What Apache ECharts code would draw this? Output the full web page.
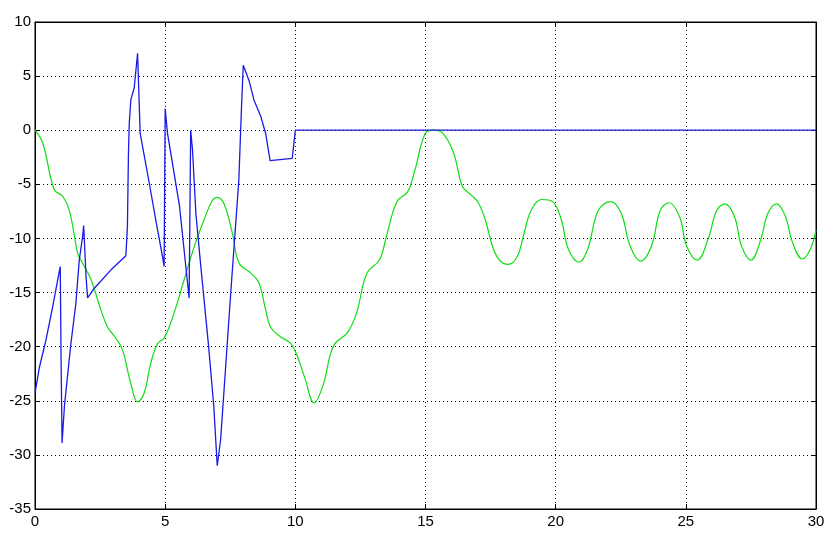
<!DOCTYPE html>
<html>
<head>
<meta charset="utf-8">
<script src="https://cdn.jsdelivr.net/npm/echarts@6/dist/echarts.min.js"></script>
<style>
  html, body { margin: 0; padding: 0; background: #fff; }
  #chart { width: 834px; height: 538px; }
</style>
</head>
<body>
<div id="chart"></div>
<script>
// blue trace (jagged)
var blueX = [0, 0.17, 0.42, 0.68, 0.93, 0.97, 1.0, 1.04, 1.13, 1.38, 1.57, 1.7, 1.83, 1.87, 1.96, 2.02,
  2.28, 2.92, 3.49, 3.55, 3.59, 3.62, 3.68, 3.81, 3.94, 4.04, 4.39, 4.64, 4.9, 4.96, 5.0, 5.09, 5.55,
  5.92, 5.98, 6.05, 6.18, 6.37, 6.67, 6.87, 7.0, 7.13, 7.52, 7.83, 7.93, 8.0, 8.22, 8.41, 8.67, 8.86,
  9.03, 9.88, 10.0, 30];
var blueY = [-24.3, -21.9, -19.4, -16.3, -13.1, -12.6, -20.9, -28.9, -25.5, -19.7, -16, -12, -9.8, -8.8, -13.5, -15.5,
  -14.6, -12.9, -11.6, -8.9, -2.1, 0.6, 2.8, 3.9, 7.1, -0.3, -4.9, -8.3, -11.7, -12.6, 2.0, -0.3, -7,
  -15.5, 0, -1.8, -7.7, -12.6, -20, -25.6, -31, -28.6, -15, -4.6, 2, 6, 4.6, 2.8, 1.3, -0.3,
  -2.8, -2.6, 0, 0];

// green trace (smooth)
var greenX = [0, 0.3, 0.74, 1.06, 1.32, 1.64, 1.76, 2.15, 2.53, 2.79, 3.1, 3.36, 3.68, 3.94, 4.19, 4.45,
  4.71, 4.96, 5.34, 5.73, 6.11, 6.49, 6.81, 7.0, 7.26, 7.58, 7.84, 8.29, 8.6, 8.86, 9.05, 9.44, 9.82,
  10.08, 10.38, 10.72, 11.06, 11.47, 12.0, 12.35, 12.75, 13.23, 13.5, 13.9, 14.31, 14.59, 14.99, 15.33,
  15.67, 16.08, 16.42, 16.76, 17.03, 17.3, 17.57, 17.84, 18.18, 18.52, 18.79, 19.06, 19.47, 19.88,
  20.22, 20.49, 20.9, 21.23, 21.64, 22.12, 22.52, 22.86, 23.27, 23.68, 24.02, 24.36, 24.76, 25.03,
  25.44, 25.85, 26.19, 26.5, 26.87, 27.14, 27.5, 27.88, 28.15, 28.49, 28.83, 29.1, 29.48, 29.78, 30];
var greenY = [0, -1.2, -5.5, -6.1, -7.4, -11.4, -12, -13.8, -16.6, -18.2, -19.2, -20.3, -23.4, -25.1, -24.3, -21.5,
  -19.7, -19.2, -16.9, -13.8, -10.8, -8.3, -6.5, -6.2, -6.8, -9.5, -12.3, -13.2, -14.1, -16.6, -18.2, -19.1, -19.7,
  -20.9, -23, -25.2, -23.6, -19.9, -18.7, -16.9, -13.2, -12, -9.8, -6.6, -5.7, -3.7, -0.3, 0,
  -0.3, -2.1, -5.2, -6, -6.7, -8.3, -10.7, -12, -12.4, -11.7, -9.5, -7.4, -6.4, -6.6,
  -8.3, -11, -12.2, -11, -7.4, -6.6, -7.7, -10.7, -12.1, -10.7, -7.4, -6.7, -8, -10.7,
  -12, -10.1, -7.4, -6.8, -8, -10.7, -12, -10.1, -7.7, -6.8, -8, -10.4, -11.9, -11, -9.2];

function pairs(xs, ys) {
  return xs.map(function (x, i) { return [x, ys[i]]; });
}

var chart = echarts.init(document.getElementById("chart"));
var labelFont = { color: "#000", fontSize: 15, fontFamily: "Liberation Sans Narrow, Liberation Sans" };
var dotted = { color: "#000", width: 1, type: [1, 3] };

var option = {
  backgroundColor: "#fff",
  animation: false,
  grid: {
    left: 35, right: 18, top: 22, bottom: 29,
    show: true, borderColor: "#000", borderWidth: 1, backgroundColor: "#fff"
  },
  xAxis: [
    {
      type: "value", min: 0, max: 30, interval: 5,
      axisLine: { show: true, onZero: false, lineStyle: { color: "#000" } },
      axisTick: { show: true, inside: true, length: 5, lineStyle: { color: "#000" } },
      axisLabel: Object.assign({ margin: 5 }, labelFont),
      splitLine: { show: true, lineStyle: dotted }
    },
    {
      type: "value", min: 0, max: 30, interval: 5, position: "top",
      axisLine: { show: true, onZero: false, lineStyle: { color: "#000" } },
      axisTick: { show: true, inside: true, length: 5, lineStyle: { color: "#000" } },
      axisLabel: { show: false },
      splitLine: { show: false }
    }
  ],
  yAxis: [
    {
      type: "value", min: -35, max: 10, interval: 5,
      axisLine: { show: true, onZero: false, lineStyle: { color: "#000" } },
      axisTick: { show: true, inside: true, length: 5, lineStyle: { color: "#000" } },
      axisLabel: Object.assign({ margin: 4 }, labelFont),
      splitLine: { show: true, lineStyle: dotted }
    },
    {
      type: "value", min: -35, max: 10, interval: 5, position: "right",
      axisLine: { show: true, onZero: false, lineStyle: { color: "#000" } },
      axisTick: { show: true, inside: true, length: 5, lineStyle: { color: "#000" } },
      axisLabel: { show: false },
      splitLine: { show: false }
    }
  ],
  series: [
    {
      type: "line",
      data: pairs(greenX, greenY),
      smooth: 0.4,
      showSymbol: false,
      lineStyle: { color: "#10dd10", width: 1.2 }
    },
    {
      type: "line",
      data: pairs(blueX, blueY),
      showSymbol: false,
      lineStyle: { color: "#1a1ae6", width: 1.3 }
    }
  ]
};
chart.setOption(option);
</script>
</body>
</html>
